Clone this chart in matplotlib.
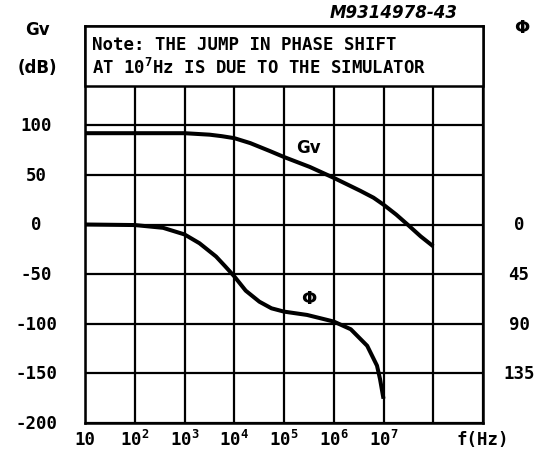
import numpy as np
import matplotlib
matplotlib.use('Agg')
import matplotlib.pyplot as plt
import matplotlib.transforms as mtransforms

plt.rcParams['mathtext.fontset'] = 'custom'
plt.rcParams['mathtext.rm'] = 'DejaVu Sans Mono:bold'
plt.rcParams['mathtext.it'] = 'DejaVu Sans Mono:bold'
plt.rcParams['mathtext.bf'] = 'DejaVu Sans Mono:bold'

# voltage gain (dB) vs frequency
gv_freq = [10, 100, 1e3, 3.2e3, 5.6e3, 1e4, 2.1e4, 5.2e4, 1e5, 3.3e5,
           1e6, 3.4e6, 6.3e6, 1e7, 1.8e7, 3.2e7, 5.6e7, 1e8]
gv_db = [92, 92, 92, 90.5, 89, 87, 82, 74, 68, 58,
         47, 34, 27, 20, 10, -1, -12, -22]

# phase lag (degrees) vs frequency
ph_freq = [10, 100, 370, 1e3, 2e3, 4.3e3, 6.6e3, 1e4, 1.7e4, 3.2e4, 5.6e4,
           1e5, 2.9e5, 1e6, 2.2e6, 4.7e6, 7.4e6, 8.5e6, 1e7]
ph_deg = [0, 0.5, 3, 9, 17, 29, 38, 47, 60, 70, 76,
          79, 82, 88, 95, 110, 128, 140, 158]

x_ticks = [10, 1e2, 1e3, 1e4, 1e5, 1e6, 1e7, 1e9]
x_labels = ['10', '10$^2$', '10$^3$', '10$^4$', '10$^5$', '10$^6$', '10$^7$', 'f(Hz)']
gv_ticks = [100, 50, 0, -50, -100, -150, -200]
ph_ticks = [0, 45, 90, 135]

mono = 'DejaVu Sans Mono'

fig = plt.figure(figsize=(5.46, 4.6), dpi=100)
ax = fig.add_axes([85 / 546, 36 / 460, 398 / 546, 397 / 460])
ax.set_xscale('log')
ax.set_xlim(10, 1e9)
ax.set_ylim(-200, 200)

# grid: every decade, every 50 dB
for d in range(1, 10):
    ax.axvline(10.0 ** d, color='black', lw=1.6, zorder=1)
for v in range(-200, 201, 50):
    ax.axhline(v, color='black', lw=1.6, zorder=1)
for s in ax.spines.values():
    s.set_linewidth(1.8)
ax.set_xticks([])
ax.set_yticks([])
ax.minorticks_off()

ax.plot(gv_freq, gv_db, color='black', lw=2.9, zorder=3, solid_capstyle='butt')

ax2 = ax.twinx()
ax2.set_ylim(180, -180)
ax2.set_yticks([])
ax2.plot(ph_freq, ph_deg, color='black', lw=2.9, zorder=3, solid_capstyle='butt')

# note box over the top of the grid
xa_yd = mtransforms.blended_transform_factory(ax.transAxes, ax.transData)
note = plt.Rectangle((0, 140), 1, 60, transform=xa_yd,
                     facecolor='white', edgecolor='black', lw=1.8, zorder=4, clip_on=False)
ax.add_patch(note)
ax.text(0.018, 182, 'Note: THE JUMP IN PHASE SHIFT', transform=xa_yd,
        family=mono, weight='bold', fontsize=12.5, va='center', ha='left', zorder=5)
ax.text(0.018, 159, 'AT 10$^7$Hz IS DUE TO THE SIMULATOR', transform=xa_yd,
        family=mono, weight='bold', fontsize=12.5, va='center', ha='left', zorder=5)

# curve labels
ax.text(10 ** 5.49, 78, 'Gv', family='DejaVu Sans', weight='bold', fontsize=12, ha='center', va='center', zorder=5)
ax2.text(10 ** 5.49, 67, '\u03a6', family='DejaVu Sans', weight='bold', fontsize=13, ha='center', va='center', zorder=5)

# axis labels
for v in gv_ticks:
    ax.text(-49 / 398, v, str(v), transform=xa_yd, family=mono, weight='bold', fontsize=12.5,
            ha='center', va='center')
right = mtransforms.blended_transform_factory(ax2.transAxes, ax2.transData)
for v in ph_ticks:
    ax2.text(1 + 36 / 398, v, str(v), transform=right, family=mono, weight='bold', fontsize=12.5,
             ha='center', va='center')
bottom = mtransforms.blended_transform_factory(ax.transData, ax.transAxes)
for f, lab in zip(x_ticks, x_labels):
    ax.text(f, -16 / 397, lab, transform=bottom, family=mono, weight='bold', fontsize=12.5,
            ha='center', va='center')

fig.text(37 / 546, 1 - 30 / 460, 'Gv', family='DejaVu Sans', weight='bold', fontsize=12, ha='center', va='center')
fig.text(37 / 546, 1 - 68 / 460, '(dB)', family='DejaVu Sans', weight='bold', fontsize=12, ha='center', va='center')
fig.text(522 / 546, 1 - 28 / 460, '\u03a6', family='DejaVu Sans', weight='bold', fontsize=13, ha='center', va='center')
fig.text(458 / 546, 1 - 13 / 460, 'M9314978-43', family='DejaVu Sans', weight='bold', style='italic',
         fontsize=12, ha='right', va='center')

fig.savefig('out.png', dpi=100)
